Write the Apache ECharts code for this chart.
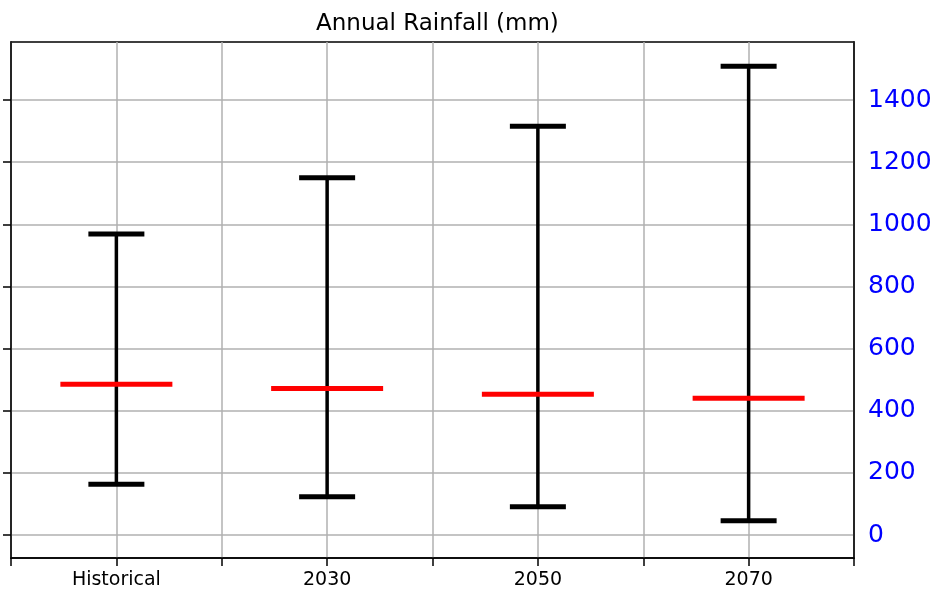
<!DOCTYPE html>
<html>
<head>
<meta charset="utf-8">
<script src="https://cdn.jsdelivr.net/npm/echarts@6/dist/echarts.min.js"></script>
<style>html,body{margin:0;padding:0;background:#fff;}#c{width:937px;height:594px;}</style>
</head>
<body>
<div id="c"></div>
<script>
const categories = ['Historical', '2030', '2050', '2070'];
const maxVals = [969, 1150, 1316, 1509];
const minVals = [163, 123, 91, 46];
const meanVals = [485, 472, 453, 440];
const yTicks = [0, 200, 400, 600, 800, 1000, 1200, 1400];

const chart = echarts.init(document.getElementById('c'));
const FONT = 'DejaVu Sans';
const data = categories.map((c, i) => [2 * i + 1, minVals[i], maxVals[i], meanVals[i]]);

chart.setOption({
  animation: false,
  backgroundColor: '#fff',
  title: {
    text: 'Annual Rainfall (mm)',
    left: 311, top: 8,
    textStyle: { fontFamily: FONT, fontSize: 23, fontWeight: 'normal', color: '#000' }
  },
  grid: { left: 11, right: 83, top: 42, bottom: 36, show: true, borderColor: '#000', borderWidth: 1.5, backgroundColor: 'transparent' },
  xAxis: {
    type: 'value', min: 0, max: 8, interval: 1,
    axisLine: { show: true, onZero: false, lineStyle: { color: '#000', width: 1.5 } },
    axisTick: { show: true, length: 8, lineStyle: { color: '#000', width: 1.5 } },
    axisLabel: {
      fontFamily: FONT, fontSize: 19, color: '#000', margin: 13,
      formatter: v => (v % 2 === 1 ? categories[(v - 1) / 2] : '')
    },
    splitLine: { show: true, lineStyle: { color: '#b0b0b0', width: 1.5 } }
  },
  yAxis: [{
    type: 'value', min: -74, max: 1587, interval: 200, position: 'left',
    axisLine: { show: true, onZero: false, lineStyle: { color: '#000', width: 1.5 } },
    axisTick: { show: true, length: 8, customValues: yTicks, lineStyle: { color: '#000', width: 1.5 } },
    axisLabel: { show: false },
    splitLine: { show: true, lineStyle: { color: '#b0b0b0', width: 1.5 } }
  }, {
    type: 'value', min: -74, max: 1587, interval: 200, position: 'right',
    axisLine: { show: true, onZero: false, lineStyle: { color: '#000', width: 1.5 } },
    axisTick: { show: false },
    axisLabel: { show: true, customValues: yTicks, formatter: v => String(v), fontFamily: FONT, fontSize: 25, color: '#0000ff', margin: 14 },
    splitLine: { show: false }
  }],
  series: [{
    type: 'custom',
    xAxisIndex: 0, yAxisIndex: 0,
    data: data,
    renderItem: function (params, api) {
      const x = api.value(0);
      const pLo = api.coord([x, api.value(1)]);
      const pHi = api.coord([x, api.value(2)]);
      const pM = api.coord([x, api.value(3)]);
      const capW = 28, meanW = 56;
      return {
        type: 'group',
        children: [
          { type: 'line', shape: { x1: pLo[0], y1: pLo[1], x2: pHi[0], y2: pHi[1] }, style: { stroke: '#000', lineWidth: 3.5 } },
          { type: 'line', shape: { x1: pLo[0] - capW, y1: pLo[1], x2: pLo[0] + capW, y2: pLo[1] }, style: { stroke: '#000', lineWidth: 5 } },
          { type: 'line', shape: { x1: pHi[0] - capW, y1: pHi[1], x2: pHi[0] + capW, y2: pHi[1] }, style: { stroke: '#000', lineWidth: 5 } },
          { type: 'line', shape: { x1: pM[0] - meanW, y1: pM[1], x2: pM[0] + meanW, y2: pM[1] }, style: { stroke: '#ff0000', lineWidth: 5 } }
        ]
      };
    }
  }]
});
</script>
</body>
</html>
